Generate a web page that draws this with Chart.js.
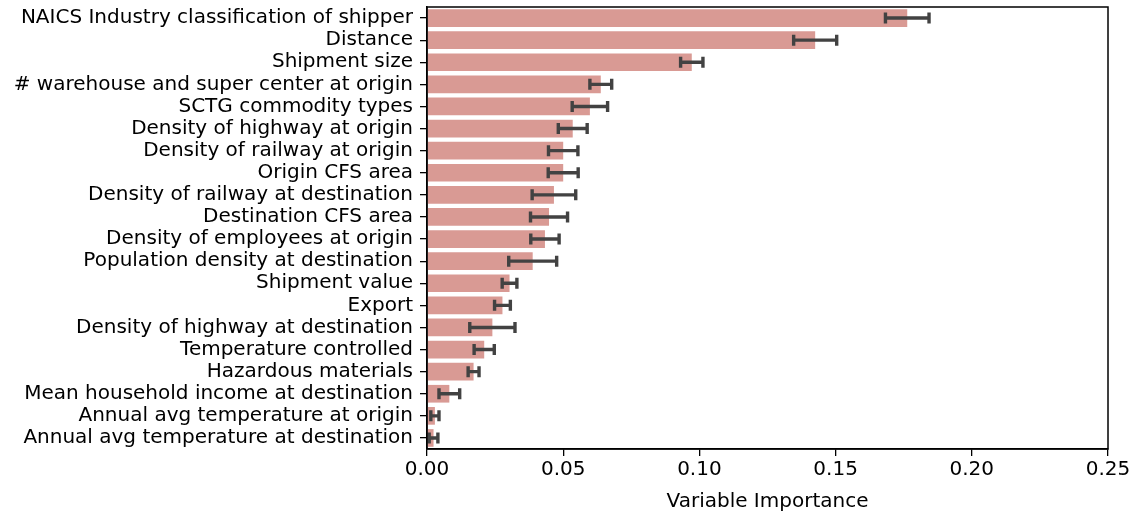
<!DOCTYPE html>
<html>
<head>
<meta charset="utf-8">
<script src="https://cdn.jsdelivr.net/npm/chart.js@4/dist/chart.umd.min.js"></script>
<style>
html,body{margin:0;padding:0;background:#fff;}
#wrap{width:1137px;height:514px;}
</style>
</head>
<body>
<div id="wrap"><canvas id="c" width="1137" height="514"></canvas></div>
<script>
const categories = [
  "NAICS Industry classification of shipper",
  "Distance",
  "Shipment size",
  "# warehouse and super center at origin",
  "SCTG commodity types",
  "Density of highway at origin",
  "Density of railway at origin",
  "Origin CFS area",
  "Density of railway at destination",
  "Destination CFS area",
  "Density of employees at origin",
  "Population density at destination",
  "Shipment value",
  "Export",
  "Density of highway at destination",
  "Temperature controlled",
  "Hazardous materials",
  "Mean household income at destination",
  "Annual avg temperature at origin",
  "Annual avg temperature at destination"
];
const importance = [0.1763, 0.1425, 0.0972, 0.0638, 0.0598, 0.0535, 0.0500, 0.0500, 0.0466, 0.0448, 0.0433, 0.0388, 0.0303, 0.0277, 0.0240, 0.0210, 0.0171, 0.0082, 0.0029, 0.0024];
const errorHalf = [0.0080, 0.0079, 0.0041, 0.0040, 0.0065, 0.0053, 0.0054, 0.0055, 0.0080, 0.0068, 0.0052, 0.0088, 0.0027, 0.0029, 0.0083, 0.0037, 0.0020, 0.0038, 0.0015, 0.0016];
const xTicks = [0, 0.05, 0.10, 0.15, 0.20, 0.25];

const FONT = "'DejaVu Sans', sans-serif";

const errorBarPlugin = {
  id: 'errorBars',
  afterDatasetsDraw(chart) {
    const ctx = chart.ctx;
    const xs = chart.scales.x, ys = chart.scales.y;
    ctx.save();
    ctx.strokeStyle = '#424242';
    ctx.lineWidth = 3.4;
    ctx.lineCap = 'butt';
    importance.forEach((v, i) => {
      const y = ys.getPixelForValue(i);
      const x1 = xs.getPixelForValue(v - errorHalf[i]);
      const x2 = xs.getPixelForValue(v + errorHalf[i]);
      ctx.beginPath();
      ctx.moveTo(x1, y); ctx.lineTo(x2, y);
      ctx.moveTo(x1, y - 5.5); ctx.lineTo(x1, y + 5.5);
      ctx.moveTo(x2, y - 5.5); ctx.lineTo(x2, y + 5.5);
      ctx.stroke();
    });
    ctx.restore();
  }
};

const framePlugin = {
  id: 'frame',
  afterDraw(chart) {
    const a = chart.chartArea, ctx = chart.ctx;
    ctx.save();
    ctx.strokeStyle = '#000';
    ctx.lineWidth = 1.5;
    ctx.strokeRect(a.left, a.top, a.right - a.left, a.bottom - a.top);
    ctx.restore();
  }
};

new Chart(document.getElementById('c'), {
  type: 'bar',
  data: {
    labels: categories,
    datasets: [{
      data: importance,
      backgroundColor: '#d99a94',
      borderWidth: 0,
      categoryPercentage: 1.0,
      barPercentage: 0.8
    }]
  },
  options: {
    indexAxis: 'y',
    responsive: false,
    animation: false,
    devicePixelRatio: 1,
    layout: { padding: { left: 0, right: 29, top: 7, bottom: 0 } },
    plugins: { legend: { display: false }, tooltip: { enabled: false } },
    scales: {
      x: {
        type: 'linear',
        min: 0, max: 0.25,
        afterBuildTicks(s) { s.ticks = xTicks.map(v => ({ value: v })); },
        afterFit(s) { s.height = 65; s.paddingLeft = 0; s.paddingRight = 0; },
        grid: { display: true, drawOnChartArea: false, drawTicks: true, tickLength: 7, color: '#000', lineWidth: 1.3 },
        border: { display: true, color: '#000', width: 1.5 },
        ticks: {
          color: '#000',
          font: { family: FONT, size: 20 },
          padding: 2,
          maxRotation: 0,
          callback: (v) => Number(v).toFixed(2)
        },
        title: {
          display: true,
          text: 'Variable Importance',
          color: '#000',
          font: { family: FONT, size: 20 },
          padding: { top: 2, bottom: 0 }
        }
      },
      y: {
        afterFit(s) { s.width = 427; s.paddingTop = 0; s.paddingBottom = 0; },
        grid: { display: true, offset: false, drawOnChartArea: false, drawTicks: true, tickLength: 7, color: '#000', lineWidth: 1.3 },
        border: { display: true, color: '#000', width: 1.5 },
        ticks: {
          color: '#000',
          font: { family: FONT, size: 20 },
          padding: 7,
          autoSkip: false
        }
      }
    }
  },
  plugins: [errorBarPlugin, framePlugin]
});
</script>
</body>
</html>
